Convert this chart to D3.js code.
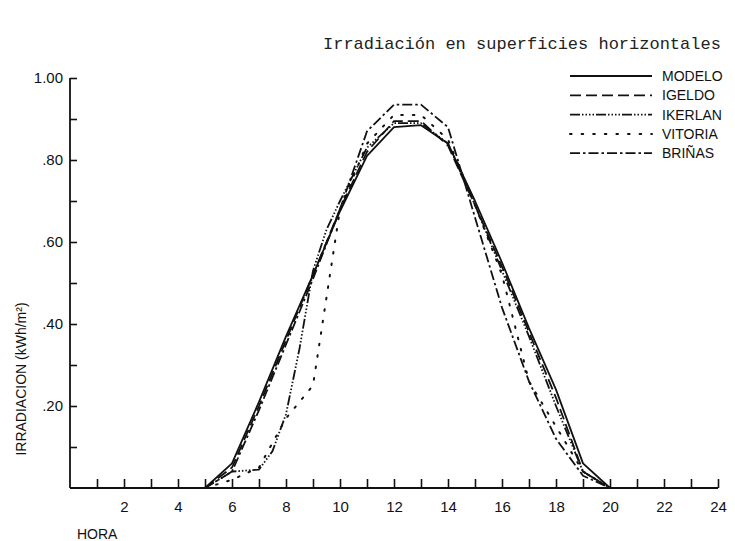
<!DOCTYPE html>
<html>
<head>
<meta charset="utf-8">
<script src="https://cdn.jsdelivr.net/npm/d3@7"></script>
<style>
  html, body { margin: 0; padding: 0; background: #fff; }
  svg { display: block; }
</style>
</head>
<body>
<svg id="chart" width="735" height="541"></svg>
<script>
// ---- data ----
const hours = [5, 6, 7, 8, 9, 10, 11, 12, 13, 14, 15, 16, 17, 18, 19, 20];
const modelo  = [0, 0.06, 0.21, 0.37, 0.52, 0.675, 0.81, 0.88, 0.885, 0.84, 0.70, 0.55, 0.39, 0.24, 0.06, 0];
const igeldo  = [0, 0.05, 0.20, 0.36, 0.52, 0.68, 0.82, 0.895, 0.895, 0.835, 0.69, 0.54, 0.38, 0.22, 0.04, 0];
const ikerlanHours = [5, 6, 7, 7.5, 8, 8.5, 9, 9.5, 10, 11, 12, 13, 14, 15, 16, 17, 18, 19, 20];
const ikerlan = [0, 0.04, 0.045, 0.09, 0.18, 0.34, 0.53, 0.63, 0.70, 0.83, 0.89, 0.89, 0.84, 0.69, 0.53, 0.37, 0.20, 0.04, 0];
const vitoria = [0, 0.02, 0.05, 0.17, 0.25, 0.68, 0.84, 0.91, 0.91, 0.85, 0.69, 0.52, 0.26, 0.15, 0.04, 0];
const brinas  = [0, 0.04, 0.19, 0.35, 0.51, 0.68, 0.87, 0.935, 0.935, 0.88, 0.66, 0.44, 0.26, 0.12, 0.03, 0];

const seriesNames = ["MODELO", "IGELDO", "IKERLAN", "VITORIA", "BRIÑAS"];
const seriesDash  = [null, "11,5", "10,2,1.5,2,1.5,2,1.5,2,1.5,2", "1.6,10", "10,3,2.5,3"];

const xTickValues = [1,2,3,4,5,6,7,8,9,10,11,12,13,14,15,16,17,18,19,20,21,22,23,24];
const xTickLabels = ["2","4","6","8","10","12","14","16","18","20","22","24"];
const yTickValues = [0.1,0.2,0.3,0.4,0.5,0.6,0.7,0.8,0.9,1.0];
const yTickLabels = [".20",".40",".60",".80","1.00"];

const title = "Irradiación en superficies horizontales";
const yTitle = "IRRADIACION (kWh/m²)";
const xTitle = "HORA";

// ---- chart ----
const svg = d3.select("#chart");
const x = d3.scaleLinear().domain([0, 24]).range([70, 718]);
const y = d3.scaleLinear().domain([0, 1]).range([488, 78]);

const font = "'Liberation Sans', Arial, Helvetica, sans-serif";

svg.append("text")
  .attr("x", 323).attr("y", 49)
  .attr("font-family", "'Liberation Mono', 'Courier New', monospace")
  .attr("font-size", 17).attr("fill", "#222")
  .text(title);

// y axis
const yLabelMap = new Map(yTickValues.filter((v, i) => i % 2 === 1).map((v, i) => [v.toFixed(1), yTickLabels[i]]));
const yAxis = d3.axisLeft(y)
  .tickValues(yTickValues)
  .tickSize(-7)
  .tickPadding(7)
  .tickFormat(v => yLabelMap.get(v.toFixed(1)) || "");
const gy = svg.append("g").attr("transform", "translate(70,0)").call(yAxis);
gy.select(".domain").attr("d", `M0,${y(1)}V${y(0)}`);

// x axis
const xLabelMap = new Map(xTickValues.filter(v => v % 2 === 0).map((v, i) => [v, xTickLabels[i]]));
const xAxis = d3.axisBottom(x)
  .tickValues(xTickValues)
  .tickSize(-9)
  .tickPadding(13)
  .tickFormat(v => xLabelMap.get(v) || "");
const gx = svg.append("g").attr("transform", "translate(0,488)").call(xAxis);
gx.select(".domain").attr("d", `M${x(0)},0H${x(24)}`);

[gx, gy].forEach(g => {
  g.select(".domain").attr("stroke", "#111").attr("stroke-width", 1.8);
  g.selectAll(".tick line").attr("stroke", "#111").attr("stroke-width", 1.6);
  g.selectAll(".tick text").attr("font-family", font).attr("font-size", 15).attr("fill", "#111");
});

// axis titles
svg.append("text")
  .attr("transform", "translate(26,379) rotate(-90)")
  .attr("text-anchor", "middle")
  .attr("font-family", font).attr("font-size", 14).attr("fill", "#111")
  .text(yTitle);
svg.append("text")
  .attr("x", 77).attr("y", 539)
  .attr("font-family", font).attr("font-size", 14).attr("fill", "#111")
  .text(xTitle);

// series lines
const seriesData = [
  hours.map((h, i) => [h, modelo[i]]),
  hours.map((h, i) => [h, igeldo[i]]),
  ikerlanHours.map((h, i) => [h, ikerlan[i]]),
  hours.map((h, i) => [h, vitoria[i]]),
  hours.map((h, i) => [h, brinas[i]])
];
const line = d3.line().x(d => x(d[0])).y(d => y(d[1]));
seriesData.forEach((data, i) => {
  svg.append("path")
    .datum(data)
    .attr("d", line)
    .attr("fill", "none")
    .attr("stroke", "#111")
    .attr("stroke-width", i === 3 ? 2 : 1.8)
    .attr("stroke-linecap", i === 3 ? "round" : "butt")
    .attr("stroke-linejoin", "round")
    .attr("stroke-dasharray", seriesDash[i]);
});

// legend
const legend = svg.append("g");
seriesNames.forEach((name, i) => {
  const ly = 76 + i * 19.3;
  legend.append("line")
    .attr("x1", 570).attr("x2", 652).attr("y1", ly).attr("y2", ly)
    .attr("stroke", "#111")
    .attr("stroke-width", i === 3 ? 2 : 1.8)
    .attr("stroke-linecap", i === 3 ? "round" : "butt")
    .attr("stroke-dasharray", seriesDash[i]);
  legend.append("text")
    .attr("x", 662).attr("y", ly + 5)
    .attr("font-family", font).attr("font-size", 14).attr("fill", "#111")
    .text(name);
});
</script>
</body>
</html>
